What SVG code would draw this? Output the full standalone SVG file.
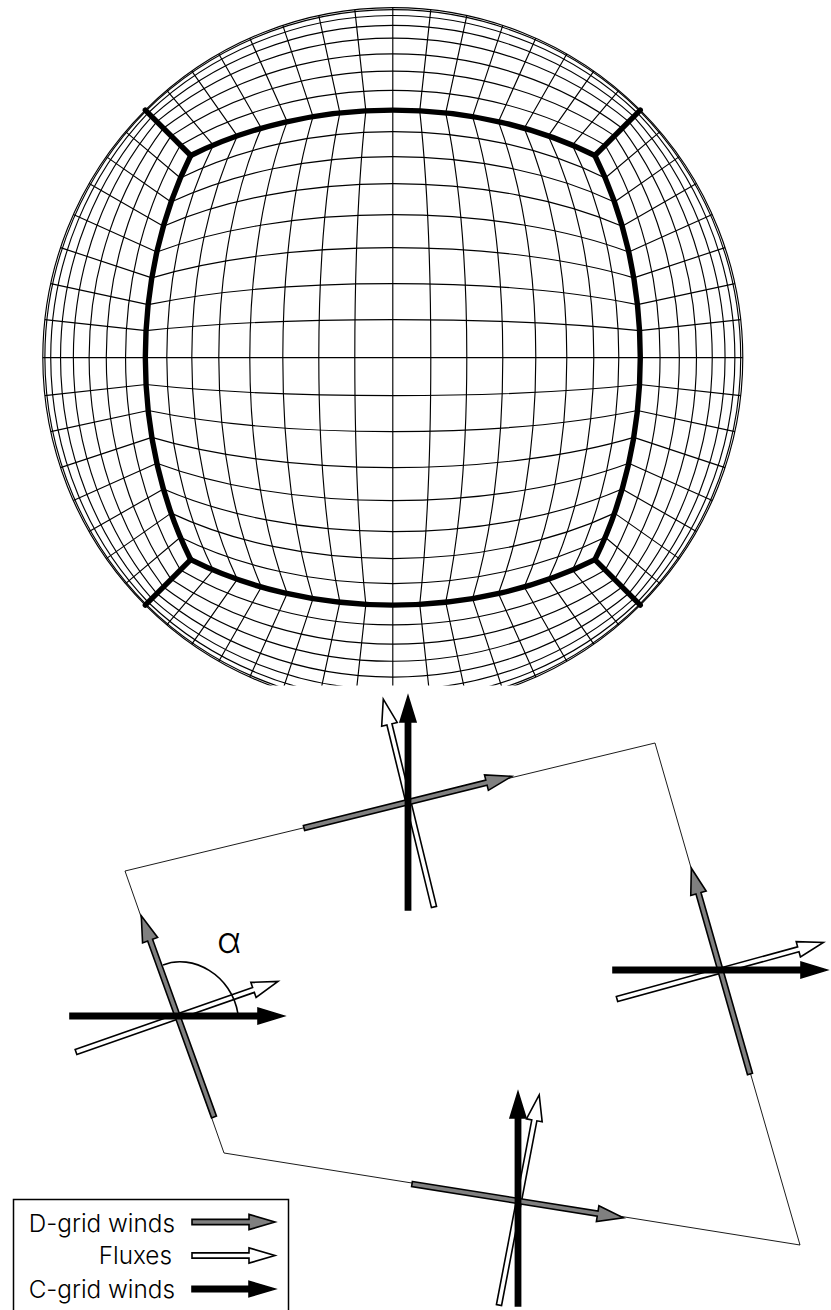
<svg xmlns="http://www.w3.org/2000/svg" width="831" height="1310" viewBox="0 0 831 1310">
<style>
.grid{fill:none;stroke:#000;stroke-width:1.15}
.thick{fill:none;stroke:#000;stroke-width:5.4;stroke-linecap:round;stroke-linejoin:miter}
.thin{fill:none;stroke:#000;stroke-width:.9}
.arc{fill:none;stroke:#000;stroke-width:1.6}
.g{fill:#808080;stroke:#000;stroke-width:1.6;stroke-miterlimit:8}
.w{fill:#fff;stroke:#000;stroke-width:1.6;stroke-miterlimit:8}
.b{fill:#000;stroke:#000;stroke-width:1.6;stroke-miterlimit:8}
.t{font-family:Inter,"Liberation Sans",Arial,sans-serif;font-weight:300;font-size:24.3px;fill:#000;text-anchor:end}
.a{font-family:Inter,"Liberation Sans",Arial,sans-serif;font-weight:300;font-size:37px;fill:#000}
</style>
<defs>
<clipPath id="cut"><rect x="0" y="0" width="831" height="685.5"/></clipPath>
<path id="arrow" d="M0,-2.6H188V-8L214,0L188,8V2.6H0Z"/>
<path id="key" d="M0,-2.6H57V-7.6L83,0L57,7.6V2.6H0Z"/>
<g id="sector">
<path class="grid" d="M26.95,-246.75A38,350 0 0 1 26.95,246.75M52.92,-244.64A74,350 0 0 1 52.92,244.64M79.77,-240.97A110,350 0 0 1 79.77,240.97M105.62,-235.95A143,350 0 0 1 105.62,235.95M131.43,-229.38A174,350 0 0 1 131.43,229.38M155.53,-221.71A201,350 0 0 1 155.53,221.71M179.62,-212.41A226,350 0 0 1 179.62,212.41"/>
<path class="grid" d="M246.75,-246.75A347.93,350 0 0 1 246.75,246.75M244.64,-244.64A342.09,350 0 0 1 244.64,244.64M240.97,-240.97A332.27,350 0 0 1 240.97,240.97M235.95,-235.95A319.45,350 0 0 1 235.95,235.95M229.38,-229.38A303.68,350 0 0 1 229.38,229.38M221.71,-221.71A286.53,350 0 0 1 221.71,221.71M212.41,-212.41A267.25,350 0 0 1 212.41,212.41"/>
<path class="grid" d="M246.75,-26.95L347.93,-38M246.75,26.95L347.93,38M244.64,-52.92L342.09,-74M244.64,52.92L342.09,74M240.97,-79.77L332.27,-110M240.97,79.77L332.27,110M235.95,-105.62L319.45,-143M235.95,105.62L319.45,143M229.38,-131.43L303.68,-174M229.38,131.43L303.68,174M221.71,-155.53L286.53,-201M221.71,155.53L286.53,201M212.41,-179.62L267.25,-226M212.41,179.62L267.25,226"/>
</g>
<g id="edge">
<path class="thick" d="M202.07,-202.07A247.49,350 0 0 1 202.07,202.07"/>
<path class="thick" d="M202.07,-202.07L247.49,-247.49"/>
</g>
</defs>
<g id="sphere" clip-path="url(#cut)">
<g transform="translate(392.8,357.6)">
<circle class="grid" r="350"/>
<path class="grid" d="M-350,0H350M0,-350V350"/>
<use href="#sector"/>
<use href="#sector" transform="rotate(90)"/>
<use href="#sector" transform="rotate(180)"/>
<use href="#sector" transform="rotate(270)"/>
<use href="#edge"/>
<use href="#edge" transform="rotate(90)"/>
<use href="#edge" transform="rotate(180)"/>
<use href="#edge" transform="rotate(270)"/>
</g>
</g>
<path id="cell" class="thin" d="M125,871L655,743L800,1245L224,1153Z"/>
<g id="cross-left">
<use href="#arrow" class="w" transform="translate(76,1052) rotate(-19.28)"/>
<use href="#arrow" class="g" transform="translate(214,1117) rotate(-109.87)"/>
<use href="#arrow" class="b" transform="translate(70,1016)"/>
<path class="arc" d="M163,965C192,953 232,975 238,1014"/>
<text class="a" x="217" y="953">α</text>
</g>
<g id="cross-top">
<use href="#arrow" class="w" transform="translate(434,907) rotate(-103.71)"/>
<use href="#arrow" class="g" transform="translate(304,828) rotate(-13.97)"/>
<use href="#arrow" class="b" transform="translate(408,910) rotate(-90)"/>
</g>
<g id="cross-right">
<use href="#arrow" class="w" transform="translate(617,999) rotate(-15.32)"/>
<use href="#arrow" class="g" transform="translate(750,1074) rotate(-105.91)"/>
<use href="#arrow" class="b" transform="translate(613,970)"/>
</g>
<g id="cross-bottom">
<use href="#arrow" class="w" transform="translate(499,1305) rotate(-79.17)"/>
<use href="#arrow" class="g" transform="translate(412,1184) rotate(9.07)"/>
<use href="#arrow" class="b" transform="translate(518,1306) rotate(-90)"/>
</g>
<g id="legend">
<rect x="13.5" y="1199.5" width="275" height="130" fill="#fff" stroke="#000" stroke-width="1.5"/>
<text class="t" x="175" y="1232">D-grid winds</text>
<text class="t" x="172" y="1264">Fluxes</text>
<text class="t" x="175" y="1298">C-grid winds</text>
<use href="#key" class="g" transform="translate(192,1222)"/>
<use href="#key" class="w" transform="translate(192,1255.5)"/>
<use href="#key" class="b" transform="translate(192,1289)"/>
</g>
</svg>
